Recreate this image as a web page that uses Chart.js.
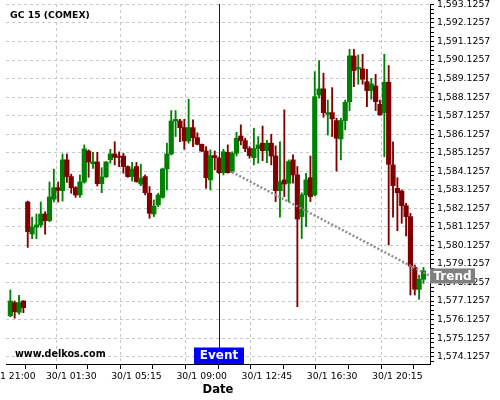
<!DOCTYPE html>
<html>
<head>
<meta charset="utf-8">
<script src="https://cdn.jsdelivr.net/npm/chart.js@4/dist/chart.umd.min.js"></script>
<style>
  html, body { margin: 0; padding: 0; background: #fff; }
</style>
</head>
<body>
<canvas id="chart" width="500" height="400"></canvas>
<script>
// 15-minute candles, GC 15 (COMEX), index 0 = 29/1 21:00
const opens = [
  1576.33, 1577.04, 1576.52, 1577.13, 1582.47, 1580.74, 1581.11, 1581.23, 1581.82, 1581.46,
  1582.62, 1583.24, 1583.08, 1584.74, 1583.84, 1583.24, 1582.85, 1583.55, 1585.22, 1584.54,
  1584.63, 1583.46, 1583.82, 1584.75, 1585.06, 1584.90, 1584.95, 1584.38, 1583.84, 1584.38,
  1583.44, 1583.84, 1582.94, 1581.82, 1582.31, 1582.72, 1584.25, 1585.06, 1586.84, 1586.84,
  1586.48, 1585.76, 1586.48, 1585.94, 1585.58, 1585.22, 1583.66, 1584.97, 1584.83, 1584.05,
  1585.15, 1584.14, 1585.10, 1586.03, 1585.78, 1585.35, 1584.86, 1585.35, 1585.64, 1585.24,
  1585.64, 1584.95, 1583.08, 1583.66, 1583.48, 1584.74, 1583.93, 1581.68, 1582.85, 1583.78,
  1582.85, 1588.24, 1588.57, 1587.20, 1587.29, 1586.86, 1585.87, 1586.86, 1587.88, 1590.35,
  1589.65, 1589.65, 1588.96, 1588.48, 1588.73, 1587.74, 1587.29, 1588.93, 1584.47, 1583.21,
  1583.06, 1582.27, 1581.68, 1578.94, 1577.76, 1578.30
];
const highs = [
  1577.72, 1577.13, 1577.44, 1577.15, 1582.52, 1581.65, 1581.82, 1582.47, 1581.95, 1583.55,
  1584.24, 1583.55, 1585.06, 1585.06, 1583.97, 1583.30, 1583.93, 1585.55, 1585.28, 1585.15,
  1585.15, 1584.32, 1584.65, 1585.31, 1585.72, 1585.18, 1585.10, 1584.42, 1584.61, 1584.61,
  1584.51, 1583.93, 1583.30, 1582.58, 1582.94, 1584.30, 1585.64, 1587.40, 1587.40, 1586.93,
  1586.93, 1588.01, 1586.90, 1586.20, 1585.60, 1585.46, 1585.28, 1585.22, 1584.90, 1585.31,
  1585.55, 1585.18, 1586.23, 1586.63, 1585.91, 1585.46, 1586.45, 1586.00, 1586.57, 1585.80,
  1586.12, 1585.50, 1585.72, 1587.44, 1584.74, 1585.01, 1584.38, 1582.96, 1584.02, 1584.95,
  1589.50, 1590.09, 1589.42, 1587.97, 1588.64, 1586.99, 1586.99, 1587.97, 1590.71, 1590.71,
  1590.40, 1590.44, 1589.63, 1589.14, 1589.36, 1587.97, 1590.44, 1589.83, 1585.72, 1583.78,
  1583.12, 1582.40, 1581.86, 1579.07, 1578.53, 1578.94
];
const lows = [
  1576.28, 1576.20, 1576.42, 1576.50, 1580.02, 1580.49, 1580.49, 1581.11, 1580.73, 1581.41,
  1582.47, 1582.47, 1582.52, 1583.53, 1582.94, 1582.72, 1582.72, 1583.48, 1583.80, 1584.28,
  1583.33, 1582.97, 1583.80, 1584.56, 1584.47, 1584.37, 1584.02, 1583.80, 1583.60, 1583.53,
  1583.35, 1582.85, 1581.59, 1581.68, 1582.22, 1582.67, 1583.12, 1585.00, 1586.00, 1585.73,
  1585.31, 1585.64, 1585.46, 1585.55, 1585.18, 1583.21, 1583.12, 1584.20, 1584.00, 1583.93,
  1584.02, 1584.05, 1584.95, 1585.55, 1585.18, 1584.83, 1584.47, 1584.56, 1584.70, 1584.59,
  1584.47, 1582.49, 1581.65, 1582.76, 1582.49, 1583.48, 1576.82, 1580.50, 1581.14, 1582.49,
  1582.80, 1588.07, 1587.04, 1586.08, 1586.00, 1584.14, 1584.74, 1586.36, 1587.40, 1588.69,
  1588.82, 1588.82, 1587.61, 1588.01, 1587.40, 1587.16, 1584.91, 1580.15, 1581.65, 1580.92,
  1581.32, 1580.64, 1577.45, 1577.45, 1577.22, 1578.08
];
const closes = [
  1577.13, 1576.55, 1577.04, 1576.77, 1580.87, 1581.11, 1581.23, 1581.82, 1581.46, 1582.74,
  1583.24, 1583.10, 1584.74, 1583.84, 1583.24, 1582.85, 1583.55, 1585.33, 1584.63, 1584.63,
  1583.46, 1583.82, 1584.63, 1585.06, 1584.88, 1584.88, 1584.38, 1583.84, 1584.25, 1583.57,
  1583.75, 1582.97, 1581.86, 1582.25, 1582.85, 1584.25, 1585.06, 1586.84, 1586.93, 1586.48,
  1585.76, 1586.48, 1585.94, 1585.58, 1585.22, 1583.78, 1584.97, 1584.86, 1584.05, 1585.18,
  1584.05, 1585.10, 1585.91, 1585.78, 1585.35, 1584.97, 1585.35, 1585.55, 1585.24, 1585.64,
  1584.95, 1583.08, 1583.57, 1583.44, 1584.65, 1583.93, 1581.55, 1582.85, 1583.66, 1582.76,
  1588.15, 1588.57, 1587.29, 1587.29, 1586.95, 1585.91, 1586.86, 1587.85, 1590.35, 1589.56,
  1589.72, 1589.09, 1588.48, 1588.84, 1587.88, 1587.16, 1588.93, 1584.50, 1583.35, 1582.97,
  1582.27, 1581.68, 1579.01, 1577.76, 1578.30, 1578.75
];

// x axis: candle index of each labelled tick, and its text
const tickIndex = [0, 14, 29, 44, 59, 74, 89];
const tickLabels = ['29/1 21:00', '30/1 01:30', '30/1 05:15', '30/1 09:00', '30/1 12:45', '30/1 16:30', '30/1 20:15'];

// event marker and trend line
const eventIndex = 48;
const trendX = [51, 96.5];
const trendY = [1584.08, 1578.48];

const TITLE = 'GC 15 (COMEX)';
const WATERMARK = 'www.delkos.com';

const X_MIN = -1, X_MAX = 96.5;
const Y_MIN = 1573.73, Y_MAX = 1593.15;
const Y_BASE = 1574.1257;

const UP = '#008000', DOWN = '#800000';
const FONT = "'DejaVu Sans', sans-serif";
const GRID = '#c8c8c8';

const colorAt = ( i ) => closes[ i ] >= opens[ i ] ? UP : DOWN;
const idx = opens.map( ( _, i ) => i );

// major ticks plus a minor tick half way between each
const xTicks = [];
tickIndex.forEach( ( v, k ) => {
	xTicks.push( v );
	const next = k + 1 < tickIndex.length ? tickIndex[ k + 1 ] : v + 15;
	xTicks.push( ( v + next ) / 2 );
} );

const isMajorY = ( v ) => Math.round( ( v - Y_BASE ) * 4 ) % 4 === 0;
const fmtY = ( v ) => v.toLocaleString( 'en-US', { minimumFractionDigits: 4, maximumFractionDigits: 4 } );

const overlay = {
	id: 'overlay',
	afterDatasetsDraw( chart ) {
		const { ctx, chartArea, scales: { x, y } } = chart;
		ctx.save();

		// Event line, snapped to a whole pixel so it stays crisp
		const ex = x.getPixelForValue( eventIndex );
		const lx = Math.round( ex ) + 0.5;
		ctx.strokeStyle = '#0000ff';
		ctx.lineWidth = 1;
		ctx.beginPath();
		ctx.moveTo( lx, chartArea.top );
		ctx.lineTo( lx, chartArea.bottom );
		ctx.stroke();

		ctx.textBaseline = 'middle';
		ctx.fillStyle = '#000';
		ctx.font = `bold 9.3px ${ FONT }`;
		ctx.textAlign = 'left';
		ctx.fillText( TITLE, 10, 15.5 );
		ctx.font = `bold 9.6px ${ FONT }`;
		ctx.fillText( WATERMARK, 15, 354 );

		// Event label, sitting on the bottom axis
		ctx.fillStyle = '#0000ff';
		ctx.fillRect( Math.round( ex ) - 25, chartArea.bottom - 16.5, 50, 16.5 );
		ctx.fillStyle = '#fff';
		ctx.font = `bold 12px ${ FONT }`;
		ctx.textAlign = 'center';
		ctx.fillText( 'Event', Math.round( ex ), chartArea.bottom - 7.8 );

		// Trend label at the end of the trend line, over the price axis
		const ty = y.getPixelForValue( trendY[ 1 ] );
		ctx.fillStyle = '#808080';
		ctx.fillRect( chartArea.right, ty - 7.5, 45, 15 );
		ctx.fillStyle = '#fff';
		ctx.fillText( 'Trend', chartArea.right + 22.5, ty + 0.5 );
		ctx.restore();
	},
};

new Chart( document.getElementById( 'chart' ), {
	type: 'bar',
	data: {
		datasets: [
			{
				type: 'line', label: 'Trend', order: 0,
				data: trendX.map( ( v, i ) => ( { x: v, y: trendY[ i ] } ) ),
				borderColor: '#8c8c8c', borderWidth: 2.4, borderDash: [ 2, 2 ], pointRadius: 0,
			},
			{
				label: 'Body', order: 1, grouped: false,
				data: idx.map( ( i ) => ( { x: i, y: [ opens[ i ], closes[ i ] ] } ) ),
				backgroundColor: ( c ) => colorAt( c.dataIndex ),
				barThickness: 4.5, minBarLength: 1,
			},
			{
				label: 'Wick', order: 2, grouped: false,
				data: idx.map( ( i ) => ( { x: i, y: [ lows[ i ], highs[ i ] ] } ) ),
				backgroundColor: ( c ) => colorAt( c.dataIndex ),
				barThickness: 1.2,
			},
		],
	},
	options: {
		responsive: false,
		animation: false,
		events: [],
		layout: { padding: { left: 6, top: 4, right: 0, bottom: 0 } },
		plugins: { legend: { display: false }, tooltip: { enabled: false } },
		scales: {
			x: {
				type: 'linear', min: X_MIN, max: X_MAX, offset: false,
				afterBuildTicks: ( s ) => { s.ticks = xTicks.map( ( v ) => ( { value: v } ) ); },
				afterFit: ( s ) => { s.paddingLeft = 0; s.paddingRight = 0; s.height = 36; },
				ticks: {
					autoSkip: false, maxRotation: 0, padding: 2, color: '#000',
					font: { family: FONT, size: 9.3 },
					callback: ( v ) => { const k = tickIndex.indexOf( v ); return k >= 0 ? tickLabels[ k ] : ''; },
				},
				grid: {
					color: ( c ) => ( c.tick && tickIndex.includes( c.tick.value ) ) ? GRID : 'rgba(0,0,0,0)',
					tickColor: '#000', tickLength: 5,
				},
				border: { color: '#000', width: 1, dash: [ 3, 3 ] },
				title: { display: true, text: 'Date', color: '#000', font: { family: FONT, size: 11.6, weight: 'bold' }, padding: { top: 0, bottom: 3 } },
			},
			y: {
				position: 'right', min: Y_MIN, max: Y_MAX,
				afterBuildTicks: ( s ) => {
					const t = [];
					for ( let k = -1; Y_BASE + 0.25 * k <= Y_MAX; k++ ) t.push( { value: Y_BASE + 0.25 * k } );
					s.ticks = t;
				},
				afterFit: ( s ) => { s.width = 70; s.paddingTop = 0; s.paddingBottom = 0; },
				ticks: {
					autoSkip: false, padding: 3, color: '#000',
					font: { family: FONT, size: 9.3 },
					callback: ( v ) => isMajorY( v ) ? fmtY( v ) : '',
				},
				grid: {
					color: ( c ) => ( c.tick && isMajorY( c.tick.value ) ) ? GRID : 'rgba(0,0,0,0)',
					tickColor: '#000', tickLength: 4,
				},
				border: { color: '#000', width: 1, dash: [ 3, 3 ] },
			},
		},
	},
	plugins: [ overlay ],
} );
</script>
</body>
</html>
